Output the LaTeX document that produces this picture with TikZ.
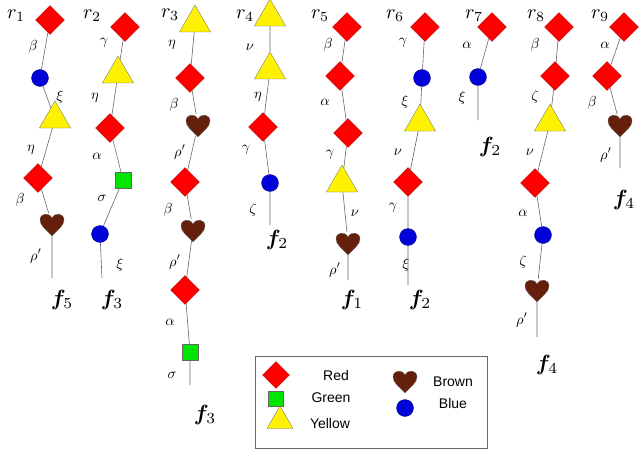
\documentclass[tikz,border=0pt]{standalone}
\usepackage{amsmath,bm}
\usepackage{fontspec}
\newfontfamily\lgfont{Liberation Sans}
\usetikzlibrary{shapes.geometric}
\definecolor{hbrown}{RGB}{100,32,10}
\tikzset{
 rd/.style={diamond,fill=red,draw=red!70!black,line width=0.3pt,minimum width=29pt,minimum height=29pt,inner sep=0},
 bl/.style={circle,fill=blue!85!black,draw=blue!50!black,line width=0.3pt,minimum size=17pt,inner sep=0},
 gr/.style={rectangle,fill=green!90!black,draw=black!60,line width=0.3pt,minimum size=16pt,inner sep=0},
 ye/.style={regular polygon,regular polygon sides=3,fill=yellow,draw=black!60,line width=0.3pt,minimum size=36pt,inner sep=0,yshift=3pt},
 hb/.style={circle,minimum size=22pt,inner sep=0,
   append after command={\pgfextra{\fill[hbrown,draw=black!60,line width=0.3pt,shift={(\tikzlastnode.center)}]
   (0,12) .. controls (-6,5) and (-12,2) .. (-12,-4) .. controls (-12,-11) and (-3,-12) .. (0,-6) .. controls (3,-12) and (12,-11) .. (12,-4) .. controls (12,2) and (6,5) .. (0,12) -- cycle;}}},
 ln/.style={draw=black!60,line width=0.6pt},
 lb/.style={scale=1.45,inner sep=0},
 rl/.style={scale=2.0,inner sep=0},
 fl/.style={scale=2.2,inner sep=0},
 lt/.style={font=\lgfont\fontsize{14}{14}\selectfont},
}
\newcommand{\fl}[1]{$\bm{f}_{#1}$}
\begin{document}
\begin{tikzpicture}[x=1pt,y=-1pt]
\useasboundingbox (0,0) rectangle (640,452);
% r1
\node[rl] at (16,16) {$r_1$};
\node[rd] (a1) at (50,20) {}; \node[bl] (a2) at (40,78) {}; \node[ye] (a3) at (55,122) {};
\node[rd] (a4) at (38,178) {}; \node[hb] (a5) at (52,224) {}; \coordinate (a6) at (52,278);
\draw[ln] (a1)--(a2)--(a3)--(a4)--(a5)--(a6);
\node[lb] at (33,47) {$\beta$}; \node[lb] at (60,97) {$\xi$}; \node[lb] at (31,150) {$\eta$};
\node[lb] at (20,200) {$\beta$}; \node[lb] at (36,256) {$\rho'$}; \node[fl] at (62,300) {\fl5};
% r2
\node[rl] at (92,16) {$r_2$};
\node[rd] (b1) at (125,27) {}; \node[ye] (b2) at (118,77) {}; \node[rd] (b3) at (110,128) {};
\node[gr] (b4) at (123,180) {}; \node[bl] (b5) at (100,234) {}; \coordinate (b6) at (102,278);
\draw[ln] (b1)--(b2)--(b3)--(b4)--(b5)--(b6);
\node[lb] at (104,43) {$\gamma$}; \node[lb] at (95,98) {$\eta$}; \node[lb] at (97,156) {$\alpha$};
\node[lb] at (102,198) {$\sigma$}; \node[lb] at (120,265) {$\xi$}; \node[fl] at (112,300) {\fl3};
% r3
\node[rl] at (170,15) {$r_3$};
\node[ye] (c1) at (195,26) {}; \node[rd] (c2) at (190,78) {}; \node[hb] (c3) at (198,125) {};
\node[rd] (c4) at (185,182) {}; \node[hb] (c5) at (193,230) {}; \node[rd] (c6) at (185,290) {};
\node[gr] (c7) at (190,352) {}; \coordinate (c8) at (190,385);
\draw[ln] (c1)--(c2)--(c3)--(c4)--(c5)--(c6)--(c7)--(c8);
\node[lb] at (172,45) {$\eta$}; \node[lb] at (174,105) {$\beta$}; \node[lb] at (180,152) {$\rho'$};
\node[lb] at (168,210) {$\beta$}; \node[lb] at (175,262) {$\rho'$}; \node[lb] at (170,322) {$\alpha$};
\node[lb] at (172,375) {$\sigma$}; \node[fl] at (205,415) {\fl3};
% r4
\node[rl] at (245,16) {$r_4$};
\node[ye] (d1) at (270,20) {}; \node[ye] (d2) at (270,73) {}; \node[rd] (d3) at (263,127) {};
\node[bl] (d4) at (270,183) {}; \coordinate (d5) at (270,225);
\draw[ln] (d1)--(d2)--(d3)--(d4)--(d5);
\node[lb] at (250,47) {$\nu$}; \node[lb] at (258,97) {$\eta$}; \node[lb] at (246,150) {$\gamma$};
\node[lb] at (253,210) {$\zeta$}; \node[fl] at (277,240) {\fl2};
% r5
\node[rl] at (320,16) {$r_5$};
\node[rd] (e1) at (347,27) {}; \node[rd] (e2) at (340,76) {}; \node[rd] (e3) at (348,133) {};
\node[ye] (e4) at (342,186) {}; \node[hb] (e5) at (348,243) {}; \coordinate (e6) at (348,280);
\draw[ln] (e1)--(e2)--(e3)--(e4)--(e5)--(e6);
\node[lb] at (328,45) {$\beta$}; \node[lb] at (325,102) {$\alpha$}; \node[lb] at (330,155) {$\gamma$};
\node[lb] at (355,213) {$\nu$}; \node[lb] at (335,270) {$\rho'$}; \node[fl] at (352,300) {\fl1};
% r6
\node[rl] at (395,16) {$r_6$};
\node[rd] (g1) at (425,27) {}; \node[bl] (g2) at (422,78) {}; \node[ye] (g3) at (420,125) {};
\node[rd] (g4) at (408,182) {}; \node[bl] (g5) at (408,237) {}; \coordinate (g6) at (408,285);
\draw[ln] (g1)--(g2)--(g3)--(g4)--(g5)--(g6);
\node[lb] at (403,43) {$\gamma$}; \node[lb] at (405,102) {$\xi$}; \node[lb] at (398,152) {$\nu$};
\node[lb] at (393,208) {$\gamma$}; \node[lb] at (406,265) {$\xi$}; \node[fl] at (420,300) {\fl2};
% r7
\node[rl] at (474,16) {$r_7$};
\node[rd] (h1) at (492,27) {}; \node[bl] (h2) at (478,77) {}; \coordinate (h3) at (478,120);
\draw[ln] (h1)--(h2)--(h3);
\node[lb] at (467,45) {$\alpha$}; \node[lb] at (462,98) {$\xi$}; \node[fl] at (490,147) {\fl2};
% r8
\node[rl] at (536,16) {$r_8$};
\node[rd] (k1) at (559,27) {}; \node[rd] (k2) at (555,76) {}; \node[ye] (k3) at (550,125) {};
\node[rd] (k4) at (535,183) {}; \node[bl] (k5) at (543,235) {}; \node[hb] (k6) at (537,290) {};
\coordinate (k7) at (537,337);
\draw[ln] (k1)--(k2)--(k3)--(k4)--(k5)--(k6)--(k7);
\node[lb] at (535,45) {$\beta$}; \node[lb] at (535,97) {$\zeta$}; \node[lb] at (530,152) {$\nu$};
\node[lb] at (523,213) {$\alpha$}; \node[lb] at (523,262) {$\zeta$}; \node[lb] at (522,320) {$\rho'$};
\node[fl] at (547,365) {\fl4};
% r9
\node[rl] at (600,16) {$r_9$};
\node[rd] (m1) at (624,27) {}; \node[rd] (m2) at (607,76) {}; \node[hb] (m3) at (620,125) {};
\coordinate (m4) at (620,168);
\draw[ln] (m1)--(m2)--(m3)--(m4);
\node[lb] at (605,45) {$\alpha$}; \node[lb] at (592,103) {$\beta$}; \node[lb] at (606,155) {$\rho'$};
\node[fl] at (624,200) {\fl4};
% legend
\node[draw=black!60,line width=0.6pt,minimum width=232pt,minimum height=92pt,anchor=north west] (leg) at (255,356) {};
\node[rd,minimum width=27pt,minimum height=27pt] (l1) at (276,375) {};
\node[gr,minimum size=15pt] (l2) at (276,399) {};
\node[ye,minimum size=30pt] (l3) at (280,424) {};
\node[hb] (l4) at (405,381) {};
\node[bl] (l5) at (405,408) {};
\node[lt] at (336,375) {Red};
\node[lt] at (331,398) {Green};
\node[lt] at (330,423) {Yellow};
\node[lt] at (453,382) {Brown};
\node[lt] at (453,403) {Blue};
\end{tikzpicture}
\end{document}
